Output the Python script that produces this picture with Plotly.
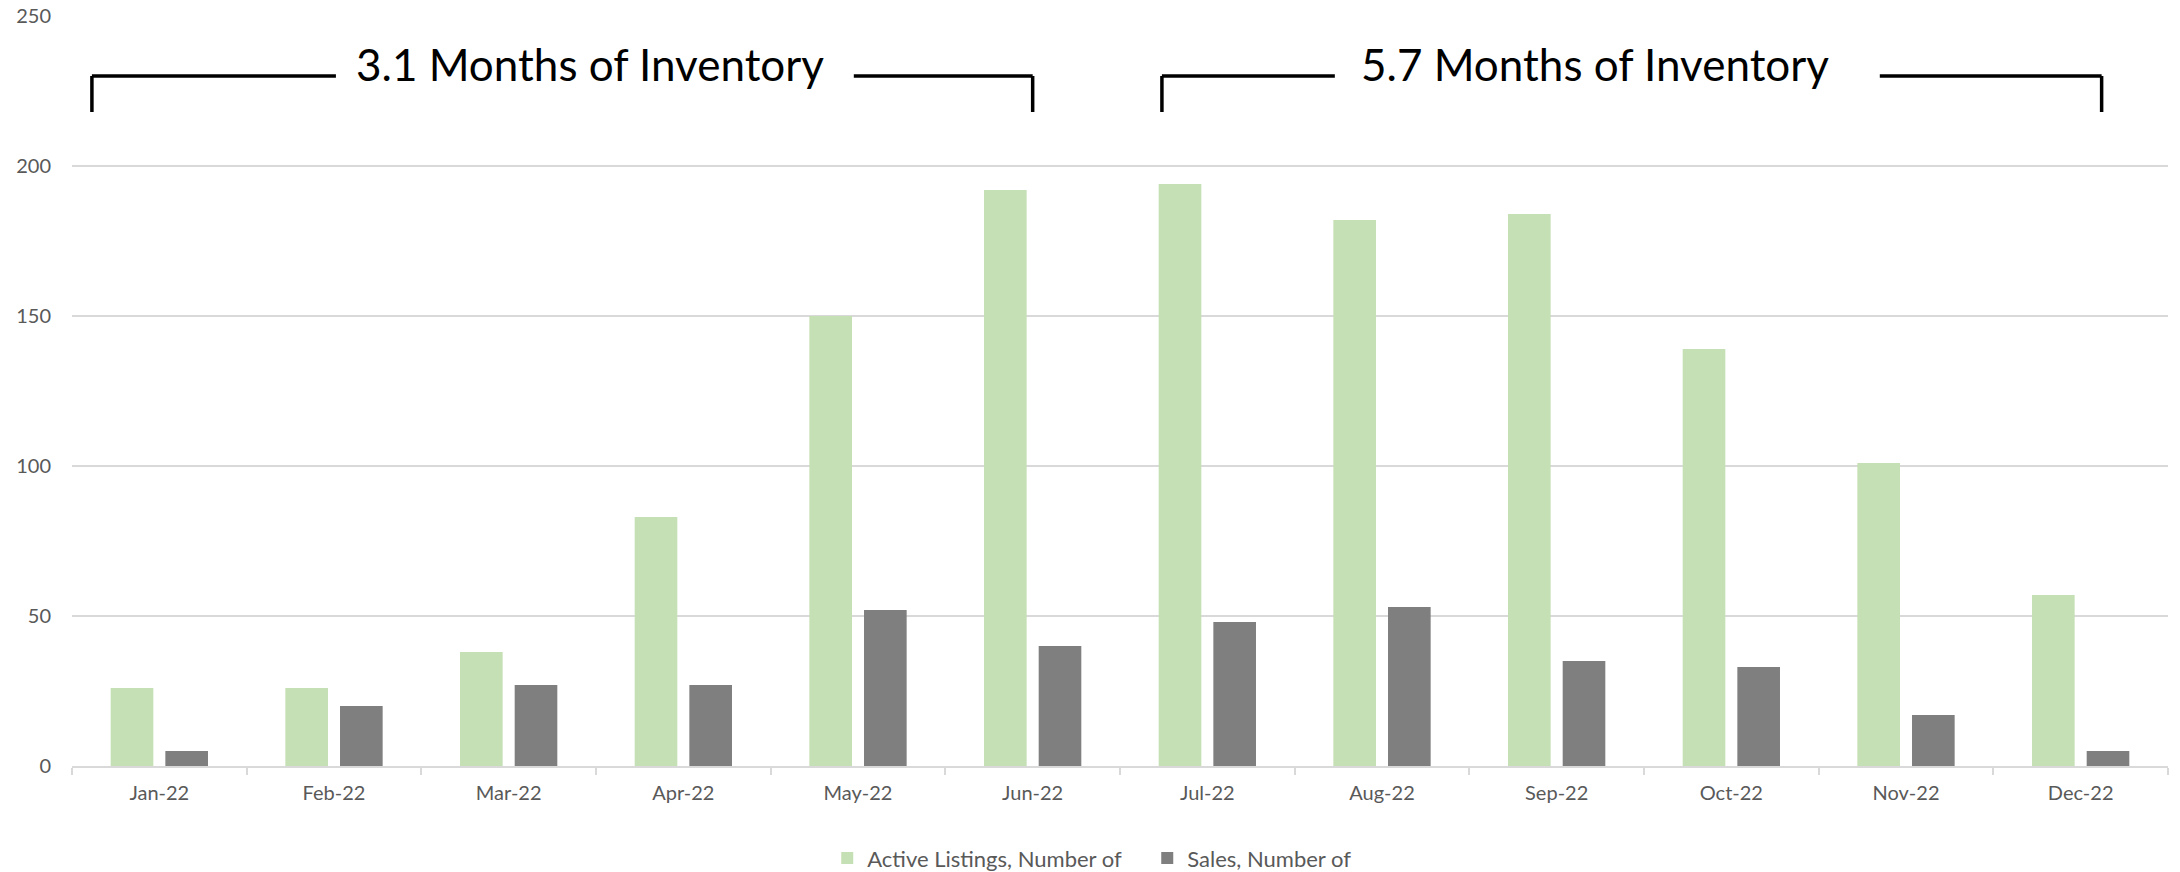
import plotly.graph_objects as go

# Monthly figures for 2022
months = ["Jan-22", "Feb-22", "Mar-22", "Apr-22", "May-22", "Jun-22",
          "Jul-22", "Aug-22", "Sep-22", "Oct-22", "Nov-22", "Dec-22"]
active_listings = [26, 26, 38, 83, 150, 192, 194, 182, 184, 139, 101, 57]
sales = [5, 20, 27, 27, 52, 40, 48, 53, 35, 33, 17, 5]

# Inventory brackets: (label, left, left-gap, right-gap, right, label x) in category units
brackets = [
    ("3.1 Months of Inventory", -0.386, 1.011, 3.976, 5.0, 2.465),
    ("5.7 Months of Inventory", 5.74, 6.73, 9.85, 11.12, 8.218),
]
bracket_top = 230
bracket_bottom = 218
label_y = 234

GREEN = "#C5E0B4"
GRAY = "#7F7F7F"
TEXT = "#595959"
GRID = "#D9D9D9"
FONT = "Lato"

fig = go.Figure()
fig.add_trace(go.Bar(x=months, y=active_listings, name="Active Listings, Number of",
                     marker=dict(color=GREEN, line=dict(width=0))))
fig.add_trace(go.Bar(x=months, y=sales, name="Sales, Number of",
                     marker=dict(color=GRAY, line=dict(width=0))))

line_style = dict(color="black", width=3.5)
for label, x_left, x_gap_l, x_gap_r, x_right, x_text in brackets:
    segments = [
        (x_left, bracket_bottom, x_left, bracket_top),
        (x_left, bracket_top, x_gap_l, bracket_top),
        (x_gap_r, bracket_top, x_right, bracket_top),
        (x_right, bracket_top, x_right, bracket_bottom),
    ]
    for x0, y0, x1, y1 in segments:
        fig.add_shape(type="line", xref="x", yref="y", x0=x0, y0=y0, x1=x1, y1=y1,
                      line=line_style, layer="above")
    fig.add_annotation(x=x_text, y=label_y, xref="x", yref="y", text=label,
                       showarrow=False, font=dict(family=FONT, size=44, color="black"),
                       xanchor="center", yanchor="middle")

fig.update_layout(
    width=2180, height=872,
    margin=dict(l=72, r=12, t=16, b=106, autoexpand=False),
    paper_bgcolor="white", plot_bgcolor="white",
    barmode="group", bargap=0.374, bargroupgap=0.22,
    font=dict(family=FONT, size=20, color=TEXT),
    showlegend=True,
    legend=dict(orientation="h", x=0.513, xanchor="center", y=-0.123, yanchor="middle",
                font=dict(family=FONT, size=22, color=TEXT), itemwidth=30,
                entrywidth=275, traceorder="normal"),
)
fig.update_xaxes(type="category", showgrid=False, showline=True, linecolor=GRID, linewidth=1.5,
                 ticks="outside", tickson="boundaries", ticklen=7, tickcolor=GRID, tickwidth=1.5,
                 tickfont=dict(family=FONT, size=20, color=TEXT), ticklabelstandoff=8)
fig.update_yaxes(range=[0, 250], dtick=50, showgrid=True, gridcolor=GRID, gridwidth=1.5,
                 zeroline=False, showline=False, ticks="",
                 tickfont=dict(family=FONT, size=20, color=TEXT), ticklabelstandoff=20)

fig.write_html("out.html")
